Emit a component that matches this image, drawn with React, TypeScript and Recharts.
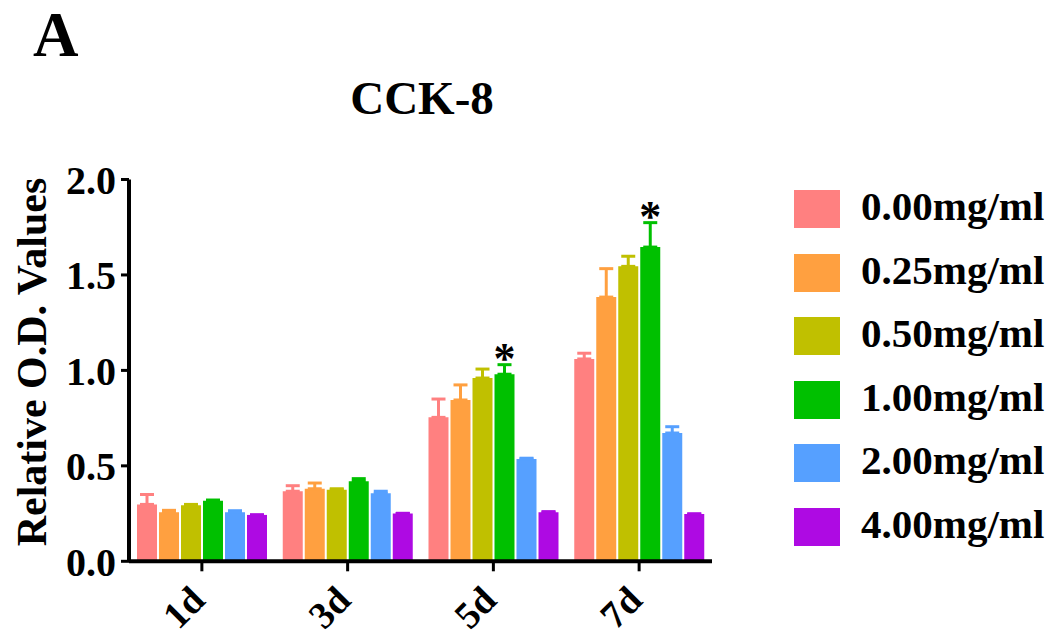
import React from 'react';
import { BarChart, Bar, XAxis, YAxis, ErrorBar, LabelList } from 'recharts';

const categories = ['1d', '3d', '5d', '7d'];
const seriesNames = ['0.00mg/ml', '0.25mg/ml', '0.50mg/ml', '1.00mg/ml', '2.00mg/ml', '4.00mg/ml'];
const seriesColors = ['#FF8080', '#FFA040', '#C0C000', '#00C000', '#56A0FF', '#AE0AE3'];

const mean000 = [0.298, 0.367, 0.754, 1.060];
const mean025 = [0.257, 0.380, 0.845, 1.384];
const mean050 = [0.293, 0.375, 0.960, 1.545];
const mean100 = [0.317, 0.419, 0.980, 1.646];
const mean200 = [0.257, 0.356, 0.536, 0.672];
const mean400 = [0.243, 0.251, 0.257, 0.248];

const err000 = [0.052, 0.029, 0.096, 0.030];
const err025 = [0.010, 0.030, 0.079, 0.149];
const err050 = [0.005, 0.005, 0.047, 0.053];
const err100 = [0.004, 0.014, 0.050, 0.128];
const err200 = [0.008, 0.011, 0.004, 0.033];
const err400 = [0, 0, 0.003, 0];

const significance = ['', '', '*', '*'];

const yTicks = [0, 0.5, 1.0, 1.5, 2.0];

const means = [mean000, mean025, mean050, mean100, mean200, mean400];
const errs = [err000, err025, err050, err100, err200, err400];

const data = categories.map((c, i) => {
  const row: any = { name: c, sig: significance[i] };
  means.forEach((m, s) => {
    row['m' + s] = m[i];
    row['e' + s] = [0, errs[s][i]];
  });
  return row;
});

const FONT = '"Liberation Serif", "Times New Roman", serif';

const XTick = (props: any) => {
  const { x, y, payload } = props;
  const ax = x + 5;
  const ay = y + 29;
  return (
    <text
      x={ax}
      y={ay}
      transform={`rotate(-45 ${ax} ${ay})`}
      textAnchor="end"
      fontFamily={FONT}
      fontWeight="bold"
      fontSize={38}
      fill="#000"
    >
      {payload.value}
    </text>
  );
};

const SigLabel = (props: any) => {
  const { x, y, width, height, value, index } = props;
  if (!value) return null;
  const m = mean100[index];
  const pxPerUnit = height / m;
  const errTop = y - err100[index] * pxPerUnit;
  const cx = x + width / 2;
  const cy = errTop - 13;
  return (
    <text x={cx} y={cy + 21} textAnchor="middle" fontFamily={FONT} fontWeight="bold" fontSize={44} fill="#000">
      {value}
    </text>
  );
};

const YLabel = () => (
  <text
    x={46}
    y={362}
    transform="rotate(-90 46 362)"
    textAnchor="middle"
    fontFamily={FONT}
    fontWeight="bold"
    fontSize={42}
    fill="#000"
  >
    Relative O.D. Values
  </text>
);

export default function App() {
  return (
    <div style={{ position: 'absolute', left: 0, top: 0, width: 1057, height: 642, background: '#fff' }}>
      <BarChart
        width={1057}
        height={642}
        data={data}
        margin={{ top: 179.5, right: 345, bottom: 0, left: 0 }}
        barCategoryGap={8}
        barGap={2}
      >
        <XAxis
          dataKey="name"
          height={80.7}
          axisLine={{ stroke: '#000', strokeWidth: 4 }}
          tickLine={{ stroke: '#000', strokeWidth: 3 }}
          tickSize={10}
          tick={<XTick />}
          interval={0}
        />
        <YAxis
          width={129}
          domain={[0, 2]}
          ticks={yTicks}
          interval={0}
          tickFormatter={(v: number) => v.toFixed(1)}
          axisLine={{ stroke: '#000', strokeWidth: 4 }}
          tickLine={{ stroke: '#000', strokeWidth: 3 }}
          tickSize={8}
          tickMargin={5}
          tick={{ fill: '#000', fontFamily: FONT, fontWeight: 'bold', fontSize: 40 }}
          label={<YLabel />}
        />
        {seriesNames.map((n, s) => (
          <Bar key={n} dataKey={'m' + s} name={n} fill={seriesColors[s]} isAnimationActive={false}>
            <ErrorBar dataKey={'e' + s} width={7} strokeWidth={3} stroke={seriesColors[s]} direction="y" />
            {s === 3 ? <LabelList dataKey="sig" content={<SigLabel />} /> : null}
          </Bar>
        ))}
      </BarChart>
      <div
        style={{
          position: 'absolute',
          left: 33,
          top: 0,
          fontFamily: FONT,
          fontWeight: 'bold',
          fontSize: 63,
          lineHeight: '70px',
          color: '#000',
        }}
      >
        A
      </div>
      <div
        style={{
          position: 'absolute',
          left: 272,
          width: 300,
          top: 72,
          textAlign: 'center',
          fontFamily: FONT,
          fontWeight: 'bold',
          fontSize: 47,
          lineHeight: '52px',
          color: '#000',
        }}
      >
        CCK-8
      </div>
      <div style={{ position: 'absolute', left: 794, top: 190 }}>
        {seriesNames.map((n, s) => (
          <div key={n} style={{ position: 'absolute', left: 0, top: s * 63.6, width: 280, height: 38 }}>
            <div style={{ position: 'absolute', left: 0, top: 0, width: 46, height: 38, background: seriesColors[s] }} />
            <div
              style={{
                position: 'absolute',
                left: 67,
                top: -7,
                fontFamily: FONT,
                fontWeight: 'bold',
                fontSize: 41,
                lineHeight: '46px',
                whiteSpace: 'nowrap',
                color: '#000',
              }}
            >
              {n}
            </div>
          </div>
        ))}
      </div>
    </div>
  );
}
